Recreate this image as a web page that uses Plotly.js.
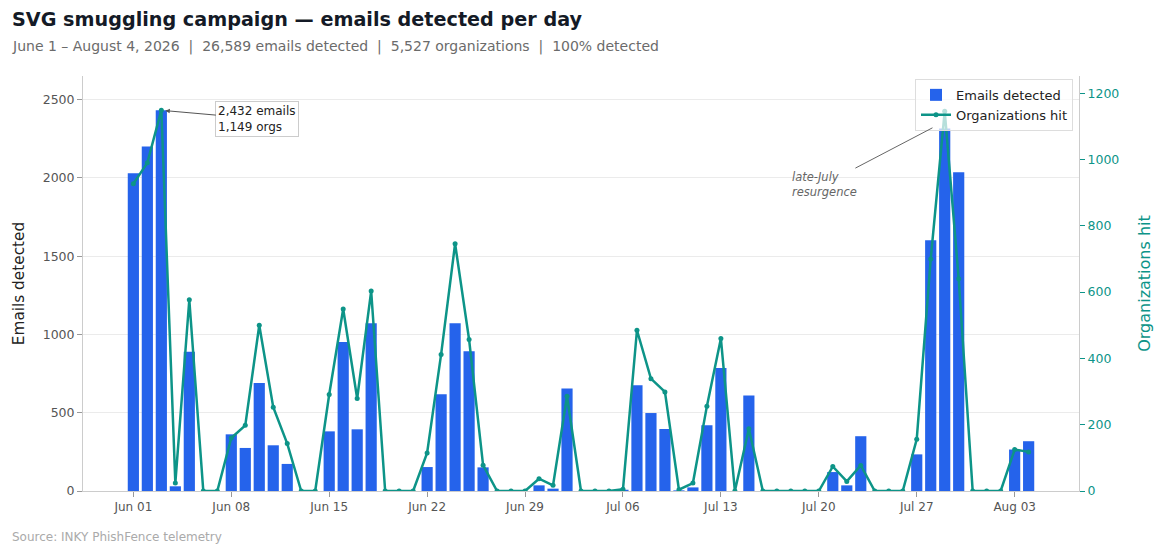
<!DOCTYPE html>
<html>
<head>
<meta charset="utf-8">
<script src="https://cdn.plot.ly/plotly-3.0.1.min.js"></script>
<style>
  html, body { margin: 0; padding: 0; background: #ffffff; }
  #chart { width: 1165px; height: 555px; }
</style>
</head>
<body>
<div id="chart"></div>
<script>
const dates = [
  '2026-06-01','2026-06-02','2026-06-03','2026-06-04','2026-06-05','2026-06-06','2026-06-07',
  '2026-06-08','2026-06-09','2026-06-10','2026-06-11','2026-06-12','2026-06-13','2026-06-14',
  '2026-06-15','2026-06-16','2026-06-17','2026-06-18','2026-06-19','2026-06-20','2026-06-21',
  '2026-06-22','2026-06-23','2026-06-24','2026-06-25','2026-06-26','2026-06-27','2026-06-28',
  '2026-06-29','2026-06-30','2026-07-01','2026-07-02','2026-07-03','2026-07-04','2026-07-05',
  '2026-07-06','2026-07-07','2026-07-08','2026-07-09','2026-07-10','2026-07-11','2026-07-12',
  '2026-07-13','2026-07-14','2026-07-15','2026-07-16','2026-07-17','2026-07-18','2026-07-19',
  '2026-07-20','2026-07-21','2026-07-22','2026-07-23','2026-07-24','2026-07-25','2026-07-26',
  '2026-07-27','2026-07-28','2026-07-29','2026-07-30','2026-07-31','2026-08-01','2026-08-02',
  '2026-08-03','2026-08-04'
];

const emailsDetected = [
  2030, 2200, 2432, 30, 890, 0, 0,
  362, 275, 690, 292, 173, 0, 0,
  381, 952, 394, 1072, 0, 0, 0,
  153, 618, 1072, 893, 151, 0, 0,
  0, 36, 15, 654, 0, 0, 0,
  8, 675, 498, 396, 4, 23, 420,
  786, 0, 610, 0, 0, 0, 0,
  0, 121, 36, 350, 0, 0, 0,
  234, 1602, 2316, 2036, 0, 0, 0,
  265, 318
];

const orgsHit = [
  927, 990, 1149, 24, 577, 0, 0,
  160, 198, 500, 253, 143, 0, 0,
  291, 549, 279, 603, 0, 0, 0,
  115, 412, 746, 457, 78, 0, 0,
  0, 37, 17, 286, 0, 0, 0,
  5, 485, 339, 299, 4, 24, 256,
  460, 0, 188, 0, 0, 0, 0,
  0, 74, 29, 77, 0, 0, 0,
  156, 700, 1146, 640, 0, 0, 0,
  125, 118
];

const titleText = 'SVG smuggling campaign — emails detected per day';
const subtitleText = 'June 1 – August 4, 2026  |  26,589 emails detected  |  5,527 organizations  |  100% detected';
const sourceText = 'Source: INKY PhishFence telemetry';

const BLUE = '#2563eb';
const TEAL = '#0d9488';
const DAY = 86400000;

const traces = [
  {
    type: 'bar',
    name: 'Emails detected',
    x: dates,
    y: emailsDetected,
    width: 0.8 * DAY,
    marker: { color: BLUE },
    yaxis: 'y'
  },
  {
    type: 'scatter',
    mode: 'lines+markers',
    name: 'Organizations hit',
    x: dates,
    y: orgsHit,
    yaxis: 'y2',
    line: { color: TEAL, width: 2.5 },
    marker: { color: TEAL, size: 5 }
  }
];

const layout = {
  width: 1165,
  height: 555,
  margin: { l: 83, r: 86, t: 76, b: 64 },
  paper_bgcolor: '#ffffff',
  plot_bgcolor: '#ffffff',
  font: { family: 'DejaVu Sans', color: '#333' },
  showlegend: true,
  title: {
    text: '<b>' + titleText + '</b>',
    xref: 'container', yref: 'container',
    x: 12 / 1165, xanchor: 'left',
    y: 1 - 19 / 555, yanchor: 'middle',
    font: { family: 'DejaVu Sans', size: 19.2, color: '#141a26' }
  },
  xaxis: {
    type: 'date',
    range: ['2026-05-28 09:36', '2026-08-07 14:24'],
    tick0: '2026-06-01',
    dtick: 7 * DAY,
    tickformat: '%b %d',
    ticks: 'outside',
    ticklen: 5,
    tickcolor: '#999',
    showline: true,
    linecolor: '#ccc',
    showgrid: false,
    zeroline: false,
    tickfont: { size: 12, color: '#555' }
  },
  yaxis: {
    range: [0, 2651],
    dtick: 500,
    showgrid: true,
    gridcolor: '#ebebeb',
    showline: true,
    linecolor: '#ccc',
    zeroline: false,
    ticks: 'outside',
    ticklen: 5,
    tickcolor: '#999',
    tickfont: { size: 12.5, color: '#555' },
    title: { text: 'Emails detected', font: { size: 15.3, color: '#222' }, standoff: 14 }
  },
  yaxis2: {
    overlaying: 'y',
    side: 'right',
    range: [0, 1252],
    dtick: 200,
    showgrid: false,
    showline: true,
    linecolor: '#ccc',
    zeroline: false,
    ticks: 'outside',
    ticklen: 5,
    tickcolor: TEAL,
    tickfont: { size: 12.5, color: TEAL },
    title: { text: 'Organizations hit', font: { size: 16, color: TEAL }, standoff: 20 }
  },
  legend: {
    x: 0.994, xanchor: 'right',
    y: 0.993, yanchor: 'top',
    bgcolor: 'rgba(255,255,255,0.7)',
    bordercolor: '#dddddd',
    borderwidth: 1,
    font: { size: 13, color: '#222' }
  },
  annotations: [
    {
      xref: 'paper', yref: 'paper',
      x: -0.0733, y: 1.0699, xanchor: 'left', yanchor: 'middle',
      showarrow: false,
      text: subtitleText,
      font: { size: 14, color: '#6b6b6b' }
    },
    {
      xref: 'paper', yref: 'paper',
      x: -0.0733, y: -0.1108, xanchor: 'left', yanchor: 'middle',
      showarrow: false,
      text: sourceText,
      font: { size: 12, color: '#aaaaaa' }
    },
    {
      x: dates[2], y: emailsDetected[2],
      xref: 'x', yref: 'y',
      text: '2,432 emails<br>1,149 orgs',
      align: 'left',
      showarrow: true,
      ax: 96, ay: 8.5,
      arrowhead: 2, arrowsize: 0.9, arrowwidth: 1, arrowcolor: '#555',
      standoff: 4,
      bgcolor: '#ffffff',
      bordercolor: '#cccccc',
      borderwidth: 1,
      borderpad: 2,
      font: { size: 12, color: '#222' }
    },
    {
      x: '2026-07-28 03:00', y: 2320,
      xref: 'x', yref: 'y',
      text: '<i>late-July<br>resurgence</i>',
      align: 'left',
      showarrow: true,
      ax: -107.7, ay: 56.3,
      arrowhead: 0, arrowwidth: 1, arrowcolor: '#666',
      font: { size: 11.5, color: '#666' }
    }
  ]
};

Plotly.newPlot('chart', traces, layout, { displayModeBar: false, staticPlot: true });
</script>
</body>
</html>
